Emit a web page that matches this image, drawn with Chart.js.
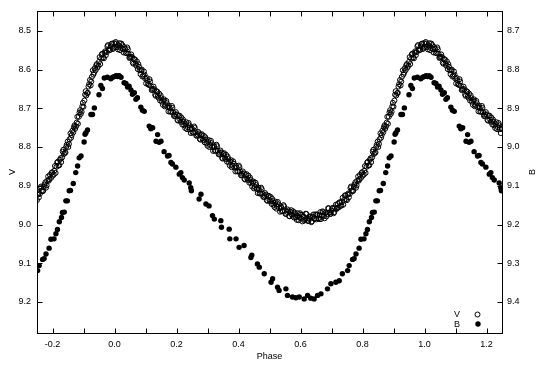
<!DOCTYPE html>
<html><head><meta charset="utf-8">
<script src="https://cdn.jsdelivr.net/npm/chart.js@4.4.0/dist/chart.umd.min.js"></script>
<style>html,body{margin:0;padding:0;background:#fff}</style>
</head><body>
<canvas id="c" width="540" height="378" style="display:block;width:540px;height:378px"></canvas>
<script>
// ---- Data (phase-folded light curve, one cycle) ----
// V observations, first set
const vPhase = [
0.002,0.006,0.011,0.016,0.020,0.025,0.029,
0.034,0.039,0.043,0.048,
0.052,0.057,0.061,0.066,0.070,0.075,0.079,
0.084,0.088,0.093,0.097,0.102,0.106,
0.111,0.115,0.120,0.124,0.129,0.133,0.138,
0.142,0.147,0.151,0.156,0.160,0.165,0.169,0.174,
0.178,0.183,0.187,0.192,0.196,0.201,0.205,0.210,0.214,0.219,
0.223,0.228,0.232,0.237,0.241,0.246,
0.250,0.255,0.259,0.264,0.268,0.273,0.277,0.282,
0.286,0.291,0.295,0.300,0.304,0.309,0.313,0.318,
0.322,0.327,0.331,0.336,0.340,0.345,
0.349,0.354,0.358,0.363,0.367,0.372,0.376,
0.381,0.385,0.390,0.394,0.399,0.403,0.408,0.412,0.417,0.421,0.426,0.430,
0.435,0.439,0.444,0.448,0.453,0.457,0.462,0.466,
0.471,0.475,0.480,0.484,0.489,0.493,0.498,0.502,0.507,
0.511,0.516,0.520,0.525,0.529,0.534,0.538,0.543,0.547,
0.552,0.556,0.561,0.565,0.570,0.574,0.579,0.583,
0.588,0.592,0.597,0.601,0.606,0.610,0.615,0.619,0.624,0.628,
0.633,0.637,0.642,0.646,0.651,0.655,0.660,0.664,0.669,0.673,0.678,
0.682,0.687,0.691,0.696,0.700,0.705,0.709,
0.714,0.718,0.723,0.727,0.732,0.736,0.741,0.745,
0.750,0.754,0.759,0.763,0.768,
0.772,0.777,0.781,0.786,0.790,0.795,0.799,
0.804,0.808,0.813,0.817,0.822,0.826,0.831,
0.835,0.840,0.844,0.849,0.853,
0.858,0.862,0.867,0.871,0.876,0.880,0.885,
0.889,0.894,0.898,0.903,0.907,
0.912,0.916,0.921,0.925,
0.930,0.934,0.939,0.943,0.948,
0.952,0.957,0.961,0.966,
0.970,0.975,0.979,0.984,0.988,0.993,0.997
];
const vMag = [
8.542,8.533,8.548,8.532,8.544,8.537,8.556,
8.547,8.558,8.548,8.570,
8.567,8.568,8.585,8.574,8.590,8.599,8.593,
8.612,8.600,8.616,8.613,8.636,8.628,
8.640,8.631,8.653,8.650,8.651,8.668,8.657,
8.673,8.680,8.674,8.691,8.677,8.692,8.687,8.708,
8.699,8.709,8.699,8.720,8.716,8.716,8.732,8.719,8.735,8.742,
8.735,8.751,8.736,8.749,8.744,8.764,
8.753,8.762,8.751,8.771,8.767,8.765,8.781,8.767,
8.782,8.788,8.781,8.797,8.782,8.795,8.790,8.810,
8.800,8.809,8.798,8.819,8.815,8.814,
8.830,8.816,8.831,8.838,8.831,8.848,8.834,
8.848,8.843,8.863,8.853,8.863,8.852,8.873,8.869,8.868,8.884,8.870,8.885,
8.892,8.885,8.902,8.889,8.903,8.898,8.919,8.910,
8.920,8.909,8.929,8.925,8.923,8.939,8.926,8.940,8.947,
8.940,8.955,8.941,8.953,8.948,8.967,8.956,8.965,8.953,
8.973,8.967,8.964,8.979,8.963,8.977,8.982,8.973,
8.988,8.971,8.982,8.975,8.992,8.980,8.987,8.973,8.991,8.985,
8.980,8.992,8.974,8.985,8.987,8.975,8.986,8.968,8.977,8.968,8.984,
8.969,8.973,8.958,8.973,8.964,8.957,8.968,
8.949,8.958,8.956,8.943,8.951,8.931,8.936,8.925,
8.937,8.920,8.921,8.902,8.914,
8.903,8.891,8.899,8.876,8.883,8.880,8.865,
8.871,8.849,8.851,8.838,8.847,8.829,8.827,
8.807,8.815,8.800,8.786,8.792,
8.765,8.769,8.762,8.744,8.747,8.722,8.722,
8.705,8.709,8.686,8.680,8.656,
8.661,8.644,8.627,8.631,
8.602,8.608,8.602,8.586,8.590,
8.568,8.572,8.559,8.571,
8.553,8.555,8.537,8.550,8.540,8.533,8.544
];
// V observations, second set
const vPhase2 = [
0.004,0.008,0.013,0.018,0.022,0.027,0.031,
0.036,0.041,0.045,0.050,
0.054,0.059,0.063,0.068,0.072,0.077,0.081,
0.086,0.090,0.095,0.099,0.104,0.108,
0.113,0.117,0.122,0.126,0.131,0.135,0.140,
0.144,0.149,0.153,0.158,0.162,0.167,0.171,0.176,
0.180,0.185,0.189,0.194,0.198,0.203,0.207,0.212,0.216,0.221,
0.225,0.230,0.234,0.239,0.243,0.248,
0.252,0.257,0.261,0.266,0.270,0.275,0.279,0.284,
0.288,0.293,0.297,0.302,0.306,0.311,0.315,0.320,
0.324,0.329,0.333,0.338,0.342,0.347,
0.351,0.356,0.360,0.365,0.369,0.374,0.378,
0.383,0.387,0.392,0.396,0.401,0.405,0.410,0.414,0.419,0.423,0.428,0.432,
0.437,0.441,0.446,0.450,0.455,0.459,0.464,0.468,
0.473,0.477,0.482,0.486,0.491,0.495,0.500,0.504,0.509,
0.513,0.518,0.522,0.527,0.531,0.536,0.540,0.545,0.549,
0.554,0.558,0.563,0.567,0.572,0.576,0.581,0.585,
0.590,0.594,0.599,0.603,0.608,0.612,0.617,0.621,0.626,0.630,
0.635,0.639,0.644,0.648,0.653,0.657,0.662,0.666,0.671,0.675,0.680,
0.684,0.689,0.693,0.698,0.702,0.707,0.711,
0.716,0.720,0.725,0.729,0.734,0.738,0.743,0.747,
0.752,0.756,0.761,0.765,0.770,
0.774,0.779,0.783,0.788,0.792,0.797,0.801,
0.806,0.810,0.815,0.819,0.824,0.828,0.833,
0.837,0.842,0.846,0.851,0.855,
0.860,0.864,0.869,0.873,0.878,0.882,0.887,
0.891,0.896,0.900,0.905,0.909,
0.914,0.918,0.923,0.927,
0.932,0.936,0.941,0.945,0.950,
0.954,0.959,0.963,0.968,
0.972,0.977,0.981,0.986,0.990,0.995,0.999
];
const vMag2 = [
8.529,8.542,8.538,8.550,8.533,8.547,8.542,
8.557,8.543,8.559,8.569,
8.561,8.582,8.573,8.585,8.579,8.586,8.602,
8.602,8.618,8.605,8.623,8.622,8.638,
8.625,8.642,8.652,8.644,8.665,8.656,8.668,
8.662,8.667,8.683,8.681,8.695,8.681,8.697,8.694,
8.709,8.694,8.710,8.719,8.710,8.730,8.720,8.730,8.724,8.729,
8.744,8.741,8.754,8.738,8.754,8.750,
8.763,8.747,8.762,8.770,8.761,8.779,8.769,8.778,
8.771,8.775,8.790,8.787,8.800,8.784,8.800,8.796,
8.810,8.794,8.809,8.818,8.809,8.828,
8.818,8.827,8.820,8.825,8.840,8.838,8.852,
8.837,8.853,8.849,8.863,8.848,8.863,8.872,8.863,8.882,8.872,8.881,8.874,
8.879,8.894,8.892,8.907,8.892,8.908,8.905,8.920,
8.905,8.920,8.928,8.919,8.937,8.927,8.937,8.929,8.934,
8.949,8.945,8.959,8.942,8.958,8.953,8.966,8.950,8.964,
8.972,8.961,8.978,8.967,8.974,8.966,8.969,8.982,
8.978,8.989,8.971,8.985,8.978,8.990,8.972,8.984,8.990,8.979,
8.994,8.980,8.985,8.974,8.974,8.984,8.976,8.986,8.966,8.978,8.970,
8.979,8.958,8.969,8.972,8.958,8.971,8.956,
8.960,8.947,8.943,8.952,8.941,8.949,8.925,8.935,
8.923,8.930,8.906,8.913,8.913,
8.897,8.905,8.887,8.887,8.872,8.867,8.874,
8.861,8.867,8.840,8.848,8.833,8.839,8.812,
8.818,8.814,8.794,8.800,8.780,
8.776,8.758,8.749,8.753,8.737,8.740,8.711,
8.715,8.695,8.696,8.665,8.667,
8.660,8.638,8.641,8.619,
8.613,8.597,8.589,8.595,8.580,
8.586,8.561,8.569,8.557,
8.563,8.540,8.548,8.549,8.534,8.547,8.532
];
// B observations
const bPhase = [
0.000,0.005,0.010,0.015,0.021,0.031,0.037,0.042,0.047,0.053,0.058,0.064,0.069,0.074,
0.085,0.090,0.096,0.112,0.117,0.123,0.134,0.139,0.144,0.150,0.160,0.171,0.176,0.182,
0.187,0.198,0.209,0.214,0.219,0.225,0.241,0.246,0.248,0.273,0.279,0.295,0.305,0.316,
0.322,0.343,0.345,0.370,0.372,0.392,0.402,0.418,0.440,0.443,0.461,0.467,0.483,0.505,
0.510,0.526,0.531,0.553,0.558,0.574,0.585,0.596,0.612,0.623,0.633,0.644,0.655,0.666,
0.687,0.698,0.714,0.725,0.735,0.752,0.757,0.768,0.773,0.779,0.789,0.795,0.805,0.811,
0.816,0.822,0.829,0.832,0.838,0.843,0.848,0.854,0.858,0.867,0.875,0.881,0.886,0.892,
0.902,0.905,0.908,0.913,0.924,0.929,0.935,0.950,0.956,0.961,0.967,0.977,0.988,0.994
];
const bMag = [
8.818,8.816,8.818,8.816,8.820,8.834,8.836,8.845,8.843,8.853,8.864,8.860,8.877,8.873,
8.897,8.905,8.908,8.946,8.953,8.950,8.985,8.968,8.988,8.985,9.012,9.023,9.022,9.040,
9.044,9.052,9.070,9.066,9.079,9.085,9.093,9.105,9.113,9.134,9.122,9.147,9.152,9.177,
9.186,9.190,9.207,9.212,9.237,9.237,9.259,9.254,9.285,9.279,9.302,9.310,9.327,9.349,
9.340,9.362,9.370,9.366,9.383,9.387,9.389,9.387,9.392,9.383,9.390,9.392,9.383,9.379,
9.366,9.353,9.349,9.345,9.327,9.319,9.306,9.290,9.288,9.276,9.261,9.238,9.237,9.224,
9.213,9.193,9.182,9.169,9.168,9.139,9.139,9.113,9.112,9.094,9.066,9.049,9.028,9.023,
8.987,8.967,8.963,8.956,8.916,8.916,8.899,8.865,8.841,8.849,8.822,8.820,8.824,8.820
];
const phaseRange = [-0.25, 1.25];
const vRange = [8.45, 9.28];
const bRange = [8.65, 9.48];
const xTickValues = [-0.2,-0.1,0.0,0.1,0.2,0.3,0.4,0.5,0.6,0.7,0.8,0.9,1.0,1.1,1.2];
const xTickLabels = ['-0.2','','0.0','','0.2','','0.4','','0.6','','0.8','','1.0','','1.2'];
const vTickValues = [8.5,8.6,8.7,8.8,8.9,9.0,9.1,9.2];
const vTickLabels = ['8.5','8.6','8.7','8.8','8.9','9.0','9.1','9.2'];
const bTickValues = [8.7,8.8,8.9,9.0,9.1,9.2,9.3,9.4];
const bTickLabels = ['8.7','8.8','8.9','9.0','9.1','9.2','9.3','9.4'];
const axisTitles = ['Phase', 'V', 'B'];
const legendLabels = ['V', 'B'];

// Phase folding: each observation is also shown one cycle earlier/later when inside the plotted window
function fold(ph, mag) {
  const out = [];
  const n = Math.min(ph.length, mag.length);
  for (let i = 0; i < n; i++) {
    out.push({x: ph[i], y: mag[i]});
    if (ph[i] - 1 >= phaseRange[0]) out.push({x: ph[i] - 1, y: mag[i]});
    if (ph[i] + 1 <= phaseRange[1]) out.push({x: ph[i] + 1, y: mag[i]});
  }
  return out;
}

Chart.defaults.font.family = "'Liberation Sans', Arial, sans-serif";
Chart.defaults.font.size = 9;
Chart.defaults.color = '#000';

const decor = {
  id: 'decor',
  afterDraw(chart) {
    const {ctx, chartArea: a, scales} = chart;
    const L = Math.floor(a.left) + 0.5, R = Math.floor(a.right) + 0.5;
    const T = Math.floor(a.top) + 0.5, B = Math.floor(a.bottom) + 0.5;
    ctx.save();
    ctx.strokeStyle = '#000';
    ctx.lineWidth = 1;
    ctx.strokeRect(L, T, R - L, B - T);
    const tl = 5;
    ctx.beginPath();
    scales.x.ticks.forEach(t => {
      const px = Math.round(scales.x.getPixelForValue(t.value)) + 0.5;
      ctx.moveTo(px, B); ctx.lineTo(px, B - tl);
      ctx.moveTo(px, T); ctx.lineTo(px, T + tl);
    });
    scales.yV.ticks.forEach(t => {
      const py = Math.round(scales.yV.getPixelForValue(t.value)) + 0.5;
      ctx.moveTo(L, py); ctx.lineTo(L + tl, py);
    });
    scales.yB.ticks.forEach(t => {
      const py = Math.round(scales.yB.getPixelForValue(t.value)) + 0.5;
      ctx.moveTo(R, py); ctx.lineTo(R - tl, py);
    });
    ctx.stroke();

    ctx.fillStyle = '#000';
    ctx.font = "9px 'Liberation Sans', Arial, sans-serif";
    ctx.textAlign = 'center';
    ctx.textBaseline = 'middle';
    ctx.fillText(axisTitles[0], (a.left + a.right) / 2, 357);
    ctx.save(); ctx.translate(13, 172); ctx.rotate(-Math.PI / 2); ctx.fillText(axisTitles[1], 0, 0); ctx.restore();
    ctx.save(); ctx.translate(533, 172); ctx.rotate(-Math.PI / 2); ctx.fillText(axisTitles[2], 0, 0); ctx.restore();

    // legend
    ctx.fillText(legendLabels[0], 457, 315);
    ctx.fillText(legendLabels[1], 457, 324.5);
    ctx.beginPath(); ctx.arc(477.5, 314.5, 2.5, 0, Math.PI * 2); ctx.stroke();
    ctx.beginPath(); ctx.arc(478, 324, 2.7, 0, Math.PI * 2); ctx.fill();
    ctx.restore();
  }
};

function fixedTicks(values) {
  return s => { s.ticks = values.map(v => ({value: v})); };
}

new Chart(document.getElementById('c'), {
  type: 'scatter',
  data: {
    datasets: [
      {label: legendLabels[1], data: fold(bPhase, bMag), yAxisID: 'yB',
       pointRadius: 2.7, pointBackgroundColor: '#000', pointBorderWidth: 0, showLine: false},
      {label: legendLabels[0], data: fold(vPhase, vMag).concat(fold(vPhase2, vMag2)), yAxisID: 'yV',
       pointRadius: 2.5, pointBackgroundColor: 'rgba(0,0,0,0)', pointBorderColor: '#000', pointBorderWidth: 1, showLine: false}
    ]
  },
  options: {
    responsive: false,
    animation: false,
    events: [],
    layout: {padding: {top: 10, left: 0, right: 0, bottom: 0}},
    plugins: {legend: {display: false}, tooltip: {enabled: false}},
    scales: {
      x: {type: 'linear', position: 'bottom', min: phaseRange[0], max: phaseRange[1],
          grid: {display: false, drawTicks: false}, border: {display: false},
          afterBuildTicks: fixedTicks(xTickValues),
          ticks: {autoSkip: false, maxRotation: 0, padding: 6, callback: (v, i) => xTickLabels[i]},
          afterFit: s => { s.height = 45; }},
      yV: {type: 'linear', position: 'left', reverse: true, min: vRange[0], max: vRange[1],
           grid: {display: false, drawTicks: false}, border: {display: false},
           afterBuildTicks: fixedTicks(vTickValues),
           ticks: {autoSkip: false, padding: 6, callback: (v, i) => vTickLabels[i]},
           afterFit: s => { s.width = 37; }},
      yB: {type: 'linear', position: 'right', reverse: true, min: bRange[0], max: bRange[1],
           grid: {display: false, drawTicks: false}, border: {display: false},
           afterBuildTicks: fixedTicks(bTickValues),
           ticks: {autoSkip: false, padding: 5, callback: (v, i) => bTickLabels[i]},
           afterFit: s => { s.width = 38; }}
    }
  },
  plugins: [decor]
});
</script>
</body></html>
